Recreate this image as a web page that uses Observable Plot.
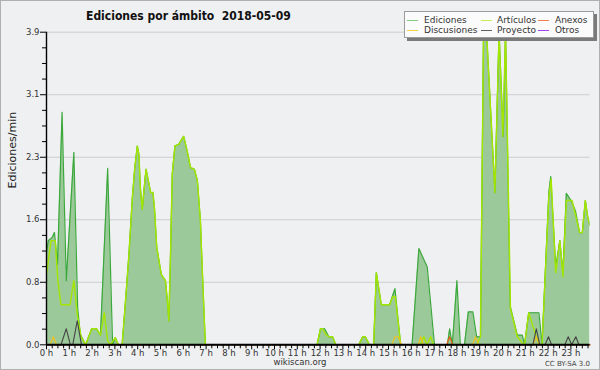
<!DOCTYPE html>
<html>
<head>
<meta charset="utf-8">
<script src="https://cdn.jsdelivr.net/npm/d3@7"></script>
<script src="https://cdn.jsdelivr.net/npm/@observablehq/plot@0.6"></script>
<style>
  body { margin: 0; background: #fff; }
  #wrap { position: relative; width: 600px; height: 370px; background: #eff0f1; overflow: hidden;
          font-family: "DejaVu Sans", sans-serif; box-shadow: inset 0 0 0 1px #b0b0b0; }
  #chart { position: absolute; left: 0; top: 0; }
  #title { position: absolute; left: 86px; top: 9px; font: bold 12px "DejaVu Sans Condensed", "DejaVu Sans", sans-serif; color: #111; white-space: pre; }
  #legend { position: absolute; left: 404px; top: 11px; width: 188px; height: 25px; background: #fbfbfb;
            border: 1px solid #9a9a9a; box-shadow: 3px 3px 0 #7a7a7a; }
  .lt { position: absolute; font: 9px "DejaVu Sans", sans-serif; color: #333; line-height: 10px; white-space: nowrap; }
  .ls { position: absolute; width: 11px; height: 0; border-top: 1px solid; }
  #site { position: absolute; left: 0; width: 600px; top: 357px; text-align: center; font: 8.5px "DejaVu Sans", sans-serif; color: #333; }
  #cc { position: absolute; right: 10px; top: 360px; font: 7px "DejaVu Sans", sans-serif; color: #444; }
</style>
</head>
<body>
<div id="wrap">
  <div id="chart"></div>
  <div id="title">Ediciones por ámbito  2018-05-09</div>
  <div id="legend"></div>
  <div id="site">wikiscan.org</div>
  <div id="cc">CC BY-SA 3.0</div>
</div>
<script>
// ---- data (time of day HH:MM, edits per minute) ----
const edicionesTime = ["0:00","0:05","0:15","0:21","0:29","0:41","0:52","1:12","1:22","1:29","1:43","1:59","2:12","2:22","2:41","2:54","3:01","3:09","3:19","3:28","3:37","3:46","3:52","3:59","4:03","4:07","4:12","4:18","4:22","4:29","4:34","4:40","4:44","4:50","4:56","5:02","5:07","5:13","5:18","5:22","5:26","5:31","5:38","5:48","5:53","6:01","6:10","6:19","6:29","6:37","6:45","6:50","6:58","11:52","12:01","12:12","12:23","12:33","12:41","13:42","13:52","13:59","14:10","14:21","14:28","14:41","15:03","15:17","15:32","16:02","16:20","16:42","17:01","17:35","17:41","17:48","18:00","18:09","18:20","18:30","18:42","18:52","19:02","19:10","19:18","19:40","19:51","20:02","20:08","20:20","20:39","20:52","20:58","21:09","21:36","21:44","22:02","22:07","22:20","22:31","22:39","22:48","23:03","23:12","23:23","23:30","23:38","23:44","23:50"];
const edicionesValue = [1.15,1.3,1.34,1.4,1.0,2.9,0.8,2.4,0.46,0.13,0,0.2,0.2,0.12,2.2,0,0.09,0,0,0.55,1.13,1.84,2.19,2.48,2.38,1.96,1.69,2.0,2.19,2.02,1.9,1.9,1.71,1.22,1.05,0.88,0.84,0.8,0.55,0.3,1.05,2.13,2.48,2.5,2.54,2.6,2.42,2.21,2.19,2.05,1.55,0.93,0,0,0.2,0.2,0.1,0.1,0,0,0.1,0.1,0,0,0.9,0.5,0.5,0.7,0,0,1.2,0.97,0,0,0.2,0,0.8,0,0,0.41,0.41,0.1,0.1,3.85,3.9,1.9,3.9,2.6,3.9,0.49,0.12,0.12,0,0.4,0.4,0,1.9,2.1,0.97,1.3,0.9,1.89,1.78,1.67,1.4,1.4,1.8,1.6,1.49];

const articulosTime = ["0:00","0:12","0:23","0:30","0:38","1:02","1:12","1:21","1:31","1:43","1:59","2:12","2:22","2:32","2:41","2:48","3:01","3:09","3:19","3:28","3:37","3:46","3:52","3:59","4:03","4:07","4:12","4:18","4:22","4:29","4:34","4:40","4:44","4:50","4:56","5:02","5:07","5:13","5:18","5:22","5:26","5:31","5:38","5:48","5:53","6:01","6:10","6:19","6:29","6:37","6:45","6:50","6:58","11:52","12:01","12:07","12:15","12:23","12:33","12:41","13:42","13:52","13:59","14:10","14:21","14:28","14:41","15:03","15:11","15:18","15:32","16:24","16:33","16:41","16:51","16:58","18:52","19:02","19:10","19:18","19:40","19:51","20:01","20:08","20:21","20:39","20:48","20:55","20:58","21:09","21:27","21:36","21:44","22:02","22:08","22:20","22:31","22:39","22:48","23:03","23:12","23:23","23:30","23:38","23:44","23:50"];
const articulosValue = [0.88,1.3,1.3,0.8,0.5,0.5,0.8,0.38,0.1,0,0.2,0.2,0.12,0.4,0.05,0,0.09,0,0,0.55,1.13,1.84,2.19,2.48,2.38,1.96,1.69,2.0,2.19,2.02,1.9,1.9,1.71,1.22,1.05,0.88,0.84,0.8,0.55,0.3,1.05,2.13,2.48,2.5,2.54,2.6,2.42,2.21,2.19,2.05,1.55,0.93,0,0,0.2,0.2,0.13,0.1,0.1,0,0,0.1,0.1,0,0,0.9,0.5,0.5,0.6,0.6,0,0,0.1,0,0.1,0,0,0.1,3.85,3.9,1.9,3.9,2.6,3.9,0.45,0.1,0.05,0,0,0.4,0.13,0,0,1.85,2.07,0.9,1.3,0.85,1.8,1.8,1.62,1.4,1.4,1.8,1.6,1.49];

const discusionesTime = ["0:00","0:10","0:18","0:26","15:09","15:17","15:26","15:34","16:18","16:25","16:32","18:41","18:49","18:57","21:21","21:29","21:37","23:50"];
const discusionesValue = [0,0,0.1,0,0,0.1,0.1,0,0,0.1,0,0,0.1,0,0,0.1,0,0];

const proyectoTime = ["0:00","0:38","0:52","1:03","1:09","1:21","1:32","21:20","21:29","21:38","21:52","22:01","22:09","22:44","22:53","23:02","23:13","23:21","23:50"];
const proyectoValue = [0,0,0.2,0,0,0.3,0,0,0.2,0,0,0.1,0,0,0.1,0,0.1,0,0];

const anexosTime = ["0:00","17:33","17:41","17:49","23:50"];
const anexosValue = [0,0,0.1,0,0];

const legendNames = ["Ediciones","Artículos","Anexos","Discusiones","Proyecto","Otros"];
const legendColors = ["#80cc80","#c4ee5a","#f08050","#f5cf45","#606060","#a044ee"];

const yMax = 3.9;
const yMajor = d3.range(6).map(i => i * yMax / 5);
const yMinor = d3.range(21).map(i => i * yMax / 20).filter((d, i) => i % 4 !== 0);
const xMajor = d3.range(24).map(h => h * 60);
const xMinor = d3.range(0, 1431, 15).filter(m => m % 60 !== 0);

// ---- build ----
const toMin = s => { const [h, m] = s.split(":").map(Number); return h * 60 + m; };
const build = (times, values) => times.map((t, i) => ({t: toMin(t), v: values[i]}));
const ediciones = build(edicionesTime, edicionesValue);
const articulos = build(articulosTime, articulosValue);
const discusiones = build(discusionesTime, discusionesValue);
const proyecto = build(proyectoTime, proyectoValue);
const anexos = build(anexosTime, anexosValue);

const chart = Plot.plot({
  width: 600,
  height: 370,
  marginLeft: 46,
  marginRight: 10.6,
  marginTop: 31.7,
  marginBottom: 25.7,
  x: {type: "linear", domain: [0, 1430]},
  y: {domain: [0, yMax]},
  style: {background: "transparent", fontFamily: "DejaVu Sans", fontSize: "9px", color: "#111", overflow: "visible"},
  marks: [
    Plot.ruleY(yMajor.slice(1), {stroke: "#cdcdcd", strokeWidth: 1}),
    Plot.areaY(ediciones, {x: "t", y: "v", fill: "#9cc99a", clip: true}),
    Plot.line(ediciones, {x: "t", y: "v", stroke: "#3aa83a", strokeWidth: 1.2, clip: true}),
    Plot.line(articulos, {x: "t", y: "v", stroke: "#a4e600", strokeWidth: 1.4, clip: true}),
    Plot.line(discusiones, {x: "t", y: "v", stroke: "#f2c21a", strokeWidth: 1.1}),
    Plot.line(proyecto, {x: "t", y: "v", stroke: "#444", strokeWidth: 1.1}),
    Plot.line(anexos, {x: "t", y: "v", stroke: "#ee5511", strokeWidth: 1.1}),
    Plot.ruleX([0], {stroke: "#000", strokeWidth: 1.4}),
    Plot.ruleY([0], {stroke: "#000", strokeWidth: 2}),
    Plot.axisY(yMajor, {tickSize: 6, tickPadding: 1, tickFormat: d => d.toFixed(1), label: null, stroke: "#000", fill: "#333", fontSize: 8.5}),
    Plot.axisY(yMinor, {tickSize: 4, tickFormat: () => "", label: null, stroke: "#000"}),
    Plot.axisX(xMajor, {tickSize: 5, tickPadding: 0, tickFormat: d => (d / 60) + " h", label: null, stroke: "#000", fill: "#333", fontSize: 8.5}),
    Plot.axisX(xMinor, {tickSize: 4, tickFormat: () => "", label: null, stroke: "#000"}),
    Plot.text(["Ediciones/min"], {frameAnchor: "left", dx: -34, rotate: -90, fontSize: 11, fill: "#222"})
  ]
});
document.getElementById("chart").appendChild(chart);

// legend (positions relative to the legend box)
const leg = document.getElementById("legend");
const sampleX = [2, 76, 133];
const textX = [19, 92, 150];
const rowY = [8, 18];
legendNames.forEach((name, i) => {
  const c = i % 3, r = Math.floor(i / 3);
  const s = document.createElement("div");
  s.className = "ls";
  s.style.left = sampleX[c] + "px";
  s.style.top = rowY[r] + "px";
  s.style.borderColor = legendColors[i];
  leg.appendChild(s);
  const t = document.createElement("div");
  t.className = "lt";
  t.style.left = textX[c] + "px";
  t.style.top = (rowY[r] - 5) + "px";
  t.textContent = name;
  leg.appendChild(t);
});
</script>
</body>
</html>
